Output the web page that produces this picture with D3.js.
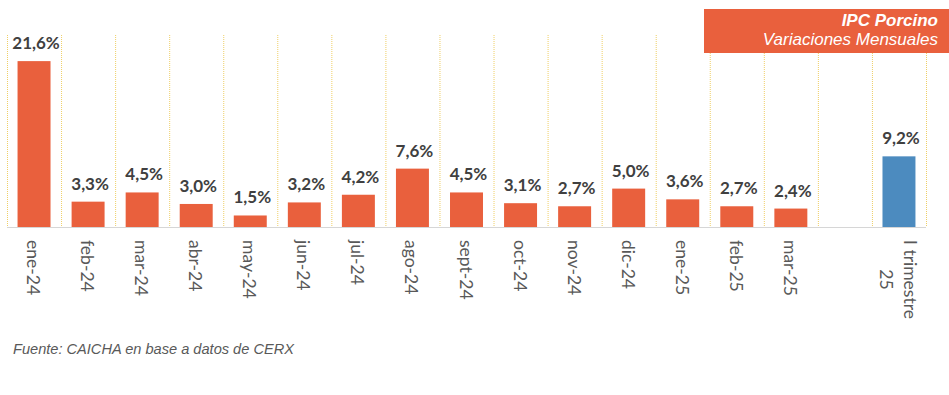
<!DOCTYPE html>
<html>
<head>
<meta charset="utf-8">
<script src="https://cdn.jsdelivr.net/npm/d3@7/dist/d3.min.js"></script>
<style>
  html, body { margin: 0; padding: 0; background: #ffffff; }
  svg { display: block; }
</style>
</head>
<body>
<svg id="chart" width="949" height="395"></svg>
<script>
// ---- data ----
const categories = ["ene-24","feb-24","mar-24","abr-24","may-24","jun-24","jul-24","ago-24","sept-24","oct-24","nov-24","dic-24","ene-25","feb-25","mar-25","","I trimestre\n25"];
const values = [21.6, 3.3, 4.5, 3.0, 1.5, 3.2, 4.2, 7.6, 4.5, 3.1, 2.7, 5.0, 3.6, 2.7, 2.4, null, 9.2];
const barKinds = ["m","m","m","m","m","m","m","m","m","m","m","m","m","m","m","none","q"];
const yDomain = [0, 25];
const titleLines = ["IPC Porcino", "Variaciones Mensuales"];
const sourceText = "Fuente: CAICHA en base a datos de CERX";

// ---- styles ----
const colMonth = "#e9603d";
const colQuarter = "#4c8bbf";
const colGrid = "#efcf66";

const svg = d3.select("#chart");
const x = d3.scaleBand().domain(d3.range(categories.length)).range([7, 926]).padding(0);
const y = d3.scaleLinear().domain(yDomain).range([227, 35]);
const barW = x.bandwidth() * 0.61;

// gridlines at band boundaries
const bounds = d3.range(categories.length + 1).map(i => i === categories.length ? x.range()[1] : x(i));
svg.append("g").selectAll("line").data(bounds).join("line")
  .attr("x1", d => d + 0.5).attr("x2", d => d + 0.5)
  .attr("y1", y(yDomain[1])).attr("y2", y(0))
  .attr("stroke", colGrid).attr("stroke-width", 1)
  .attr("stroke-dasharray", "1,1");

// bars
const data = categories.map((c, i) => ({i, c, v: values[i], k: barKinds[i]})).filter(d => d.v != null);
svg.append("g").selectAll("rect").data(data).join("rect")
  .attr("x", d => x(d.i) + (x.bandwidth() - barW) / 2)
  .attr("width", barW)
  .attr("y", d => y(d.v))
  .attr("height", d => y(0) - y(d.v))
  .attr("fill", d => d.k === "q" ? colQuarter : colMonth);

// axis line
svg.append("line")
  .attr("x1", x.range()[0]).attr("x2", x.range()[1])
  .attr("y1", y(0) + 0.5).attr("y2", y(0) + 0.5)
  .attr("stroke", "#d6d6d6").attr("stroke-width", 1);

// value labels
svg.append("g").selectAll("text").data(data).join("text")
  .attr("x", d => x(d.i) + x.bandwidth() / 2 + 2)
  .attr("y", d => y(d.v) - 12)
  .attr("text-anchor", "middle")
  .attr("font-family", "Lato, 'Open Sans', sans-serif")
  .attr("font-weight", "bold")
  .attr("font-size", 17)
  .attr("fill", "#404040")
  .text(d => d.v.toFixed(1).replace(".", ",") + "%");

// category labels (rotated 90deg, top-anchored, multi-line centred)
const tickG = svg.append("g");
categories.forEach((c, i) => {
  if (!c) return;
  const lines = c.split("\n");
  const cx = x(i) + x.bandwidth() / 2;
  const g = tickG.append("g").attr("transform", `translate(${cx},240) rotate(90)`);
  const t = g.append("text")
    .attr("font-family", "Lato, 'Open Sans', sans-serif")
    .attr("font-size", 17.5)
    .attr("fill", "#595959")
    .attr("dominant-baseline", "central");
  const spacing = 24;
  const off = -(lines.length - 1) * spacing / 2;
  const spans = lines.map((ln, j) => t.append("tspan").attr("y", off + j * spacing).text(ln));
  const maxLen = d3.max(spans, s => s.node().getComputedTextLength());
  spans.forEach(s => s.attr("x", maxLen / 2).attr("text-anchor", "middle"));
});

// title box
svg.append("rect").attr("x", 704).attr("y", 9).attr("width", 245).attr("height", 44).attr("fill", colMonth);
svg.append("text").attr("text-anchor", "end").attr("x", 938).attr("y", 25.5)
  .attr("font-family", "'Liberation Sans', Arial, sans-serif").attr("font-style", "italic")
  .attr("font-weight", "bold").attr("font-size", 17).attr("fill", "#ffffff").text(titleLines[0]);
svg.append("text").attr("text-anchor", "end").attr("x", 938).attr("y", 44.5)
  .attr("font-family", "'Liberation Sans', Arial, sans-serif").attr("font-style", "italic")
  .attr("font-size", 17).attr("fill", "#ffffff").text(titleLines[1]);

// source
svg.append("text").attr("x", 13).attr("y", 354)
  .attr("font-family", "'Liberation Sans', Arial, sans-serif").attr("font-style", "italic")
  .attr("font-size", 14.6).attr("fill", "#595959").text(sourceText);
</script>
</body>
</html>
